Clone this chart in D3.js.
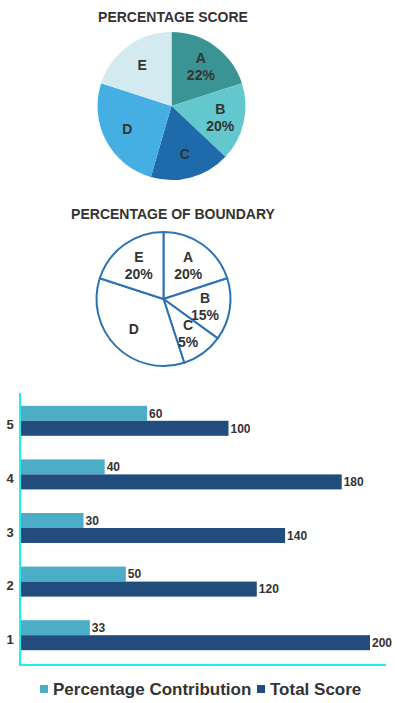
<!DOCTYPE html>
<html>
<head>
<meta charset="utf-8">
<script src="https://cdn.jsdelivr.net/npm/d3@7"></script>
<style>
  body { margin: 0; background: #fff; }
  svg { display: block; font-family: 'Liberation Sans', Arial, sans-serif; }
</style>
</head>
<body>
<div id="chart"></div>
<script>
// pie 1: percentage score
const scoreNames = ['A', 'B', 'C', 'D', 'E'];
const scoreShares = [20, 17, 17.5, 25.5, 20];
const scoreLabels = ['22%', '20%', '', '', ''];
const scoreColors = ['#3a9494', '#62c8ce', '#1e6aab', '#45aee2', '#d3ebf0'];

// pie 2: percentage of boundary
const boundaryNames = ['A', 'B', 'C', 'D', 'E'];
const boundaryShares = [20, 15, 10, 35, 20];
const boundaryLabels = ['20%', '15%', '5%', '', '20%'];

// bar chart
const groups = ['1', '2', '3', '4', '5'];
const pctContribution = [33, 50, 30, 40, 60];
const totalScore = [200, 120, 140, 180, 100];
const seriesNames = ['Percentage Contribution', 'Total Score'];
const barColors = ['#4badc6', '#234c7e'];

const W = 397, H = 703;
const textColor = '#333';
const titleX = 173;

const svg = d3.select('#chart').append('svg')
  .attr('width', W)
  .attr('height', H);

function drawPie(cx, cy, r, title, titleY, names, shares, labels, fills, stroke, labelR) {
  svg.append('text')
    .attr('x', titleX)
    .attr('y', titleY)
    .attr('text-anchor', 'middle')
    .attr('font-size', 14)
    .attr('font-weight', 'bold')
    .attr('fill', textColor)
    .text(title);

  const pie = d3.pie().sort(null).value(d => d.v);
  const data = pie(names.map((n, i) => ({ name: n, v: shares[i], label: labels[i], i: i })));
  const arc = d3.arc().innerRadius(0).outerRadius(r);
  const labelArc = d3.arc().innerRadius(labelR).outerRadius(labelR);

  const g = svg.append('g').attr('transform', 'translate(' + cx + ',' + cy + ')');

  g.selectAll('path')
    .data(data)
    .enter().append('path')
    .attr('d', arc)
    .attr('fill', d => fills ? fills[d.data.i] : '#fff')
    .attr('stroke', stroke || 'none')
    .attr('stroke-width', stroke ? 2 : 0)
    .attr('stroke-linejoin', 'round');

  const lbl = g.selectAll('.lbl')
    .data(data)
    .enter().append('text')
    .attr('class', 'lbl')
    .attr('text-anchor', 'middle')
    .attr('font-size', 14)
    .attr('font-weight', 'bold')
    .attr('fill', textColor)
    .attr('transform', d => 'translate(' + labelArc.centroid(d) + ')');

  lbl.append('tspan')
    .attr('x', 0)
    .attr('dy', d => d.data.label ? '-0.2em' : '0.35em')
    .text(d => d.data.name);
  lbl.append('tspan')
    .attr('x', 0)
    .attr('dy', '1.2em')
    .text(d => d.data.label);
}

drawPie(171.5, 106, 74, 'PERCENTAGE SCORE', 22, scoreNames, scoreShares, scoreLabels, scoreColors, null, 50);
drawPie(163.5, 299, 67, 'PERCENTAGE OF BOUNDARY', 219, boundaryNames, boundaryShares, boundaryLabels, null, '#2b73b5', 42);

// ---- bar chart ----
const axisX = 20;
const y = d3.scaleBand()
  .domain(groups.slice().reverse())
  .range([394, 662]);

const xPct = d3.scaleLinear().domain([0, 60]).range([axisX, axisX + 127]);
const xTot = d3.scaleLinear().domain([0, 200]).range([axisX + 67, axisX + 350]);
const barH = 15;

const bars = svg.append('g');
groups.forEach((grp, i) => {
  const mid = y(grp) + y.bandwidth() / 2;
  const rows = [
    { v: pctContribution[i], x: xPct, top: mid - barH, c: barColors[0] },
    { v: totalScore[i], x: xTot, top: mid, c: barColors[1] }
  ];
  rows.forEach(r => {
    bars.append('rect')
      .attr('x', axisX - 1)
      .attr('y', r.top)
      .attr('width', r.x(r.v) - axisX + 1)
      .attr('height', barH)
      .attr('fill', r.c);
    bars.append('text')
      .attr('x', r.x(r.v) + 2)
      .attr('y', r.top + barH / 2)
      .attr('dy', '0.35em')
      .attr('font-size', 12)
      .attr('font-weight', 'bold')
      .attr('fill', textColor)
      .text(r.v);
  });
  bars.append('text')
    .attr('x', 10)
    .attr('y', mid + 4)
    .attr('dy', '0.35em')
    .attr('text-anchor', 'middle')
    .attr('font-size', 13)
    .attr('font-weight', 'bold')
    .attr('fill', textColor)
    .text(grp);
});

// axes lines
svg.append('path')
  .attr('d', d3.line()([[axisX, 393], [axisX, 665], [386, 665]]))
  .attr('fill', 'none')
  .attr('stroke', '#1ef0f0')
  .attr('stroke-width', 2);

// legend
const legend = svg.append('g').attr('transform', 'translate(0,689)');
const legendX = [40, 257];
seriesNames.forEach((name, i) => {
  legend.append('rect')
    .attr('x', legendX[i])
    .attr('y', -4)
    .attr('width', 8)
    .attr('height', 8)
    .attr('fill', barColors[i]);
  legend.append('text')
    .attr('x', legendX[i] + 13)
    .attr('y', 0)
    .attr('dy', '0.35em')
    .attr('font-size', 17)
    .attr('font-weight', 'bold')
    .attr('fill', textColor)
    .text(name);
});
</script>
</body>
</html>
